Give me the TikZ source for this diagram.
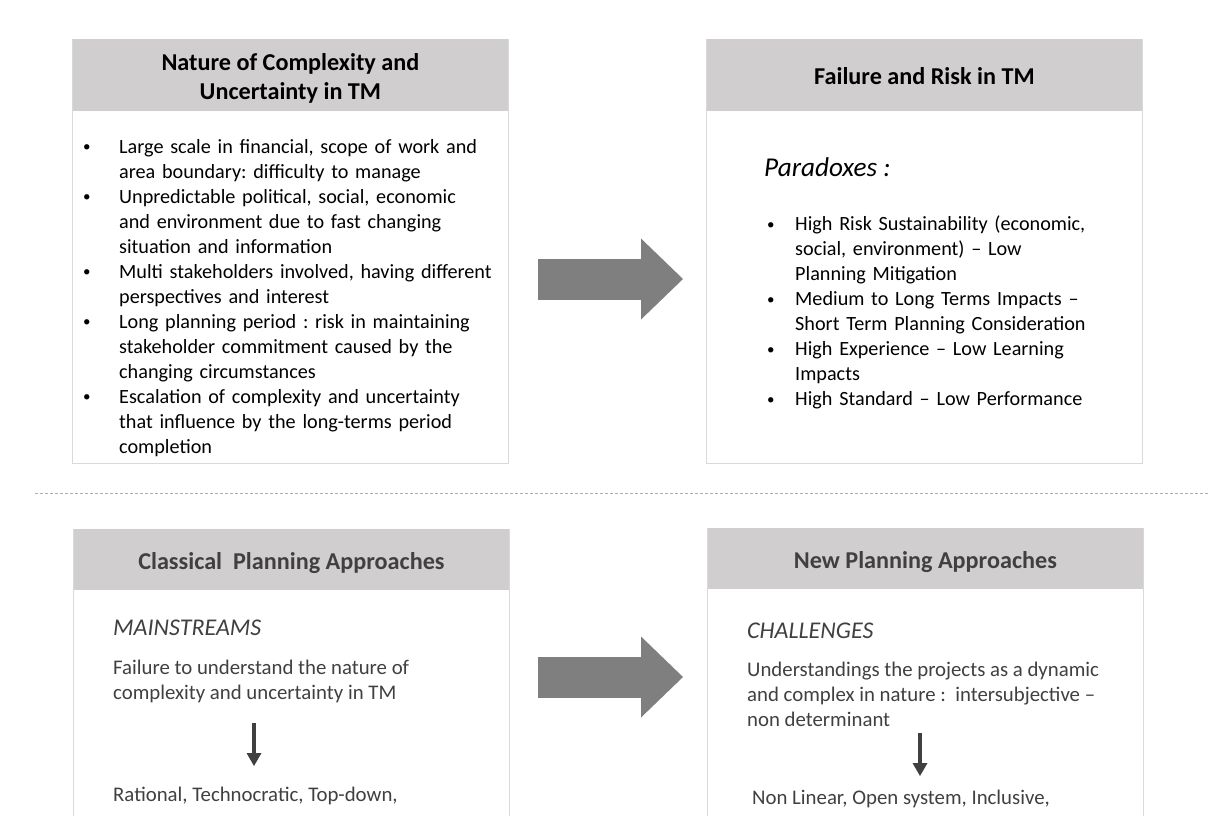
\documentclass[tikz,border=0pt]{standalone}
\usepackage{fontspec}
\setmainfont{Carlito}
\usetikzlibrary{arrows.meta,positioning}
\definecolor{Frame}{HTML}{D9D9D9}
\definecolor{Head}{HTML}{D0CECE}
\definecolor{Shaft}{HTML}{7F7F7F}
\definecolor{Ink}{HTML}{404040}
\definecolor{Rule}{HTML}{AFAFAF}
\frenchspacing
\newcommand{\bitem}[2][36pt]{\hangindent=#1\hangafter=1\noindent
  \makebox[#1][l]{\raisebox{1.5pt}{\fontsize{15pt}{15pt}\selectfont\textbullet}}#2\par}

\begin{document}
\begin{tikzpicture}[x=1pt,y=-1pt,
  panel/.style={draw=Frame,fill=white,line width=0.8pt,minimum width=436pt,anchor=north west,inner sep=0pt},
  headbar/.style={fill=Head,minimum width=435pt,minimum height=72pt,anchor=north,inner sep=0pt},
  title/.style={inner sep=0pt,align=center,font=\bfseries\fontsize{24.2pt}{29pt}\selectfont},
  body/.style={inner sep=0pt,align=left,font=\fontsize{20.2pt}{25pt}\selectfont},
  note/.style={inner sep=0pt,align=left,text=Ink,font=\fontsize{20.8pt}{25pt}\selectfont},
  lead/.style={inner sep=0pt,anchor=base west,font=\itshape\fontsize{24pt}{29pt}\selectfont},
  bigarrow/.style={Shaft,line width=41pt,-{Triangle[length=42pt,width=81pt,line width=0pt]}},
  downarrow/.style={Ink,line width=4.5pt,-{Triangle[length=13pt,width=15pt,line width=0pt]}}]
  \clip (0,0) rectangle (1208,815);
  \fill[white] (0,0) rectangle (1208,815);

  \node[panel,minimum height=424pt] (natbox) at (72,39) {};
  \node[headbar] (nathead) at ([yshift=0.4pt]natbox.north) {};
  \node[title] (nattitle) at ([yshift=-4pt]nathead.center) {Nature of Complexity and\\Uncertainty in TM};
  \node[body,anchor=north west,text width=430pt] (natlist) at (83,139) {%
    \bitem{Large scale in financial, scope of work and\newline area boundary: difficulty to manage}
    \bitem{Unpredictable political, social, economic\newline and environment due to fast changing\newline situation and information}
    \bitem{Multi stakeholders involved, having different\newline perspectives and interest}
    \bitem{Long planning period : risk in maintaining\newline stakeholder commitment caused by the\newline changing circumstances}
    \bitem{Escalation of complexity and uncertainty\newline that influence by the long-terms period\newline completion}};

  \node[panel,minimum height=424pt] (failbox) at (706,39) {};
  \node[headbar] (failhead) at ([yshift=0.4pt]failbox.north) {};
  \node[title] (failtitle) at ([yshift=-1pt]failhead.center) {Failure and Risk in TM};
  \node[lead,font=\itshape\fontsize{27.2pt}{30pt}\selectfont] (paradox) at (764,176) {Paradoxes :};
  \node[body,anchor=north west,text width=370pt] (paralist) at (767,216) {%
    \bitem[28pt]{High Risk Sustainability (economic,\newline social, environment) -- Low\newline Planning Mitigation}
    \bitem[28pt]{Medium to Long Terms Impacts --\newline Short Term Planning Consideration}
    \bitem[28pt]{High Experience -- Low Learning\newline Impacts}
    \bitem[28pt]{High Standard -- Low Performance}};

  \coordinate (sepa) at (35,493);
  \coordinate (sepb) at (1208,493);
  \draw[Rule,line width=0.8pt,dash pattern=on 3pt off 2pt] (sepa) -- (sepb);

  \node[panel,minimum height=320pt] (classbox) at (73,529) {};
  \node[headbar,minimum height=61pt] (classhead) at ([yshift=0.4pt]classbox.north) {};
  \node[title,text=Ink] (classtitle) at ([yshift=-4pt]classhead.center) {Classical\ \ Planning Approaches};
  \node[lead,text=Ink] (mainstr) at (113,635) {MAINSTREAMS};
  \node[note,anchor=north west] (failtxt) at (113,660) {Failure to understand the nature of\\complexity and uncertainty in TM};
  \node[note,anchor=base west] (ratxt) at (113,801) {Rational, Technocratic, Top-down,};

  \node[panel,minimum height=320pt] (newbox) at (707,528) {};
  \node[headbar,minimum height=61pt] (newhead) at ([yshift=0.4pt]newbox.north) {};
  \node[title,text=Ink] (newtitle) at ([yshift=-4pt]newhead.center) {New Planning Approaches};
  \node[lead,text=Ink] (challng) at (747,638) {CHALLENGES};
  \node[note,anchor=north west] (undtxt) at (747,662) {Understandings the projects as a dynamic\\and complex in nature :\ \ intersubjective --\\non determinant};
  \node[note,anchor=base west] (nonlin) at (752,804) {Non Linear, Open system, Inclusive,};

  \coordinate (arra) at (538,279);
  \coordinate (arrb) at (683,279);
  \draw[bigarrow] (arra) -- (arrb);
  \coordinate (arrc) at (538,677);
  \coordinate (arrd) at (683,677);
  \draw[bigarrow] (arrc) -- (arrd);

  \coordinate (clsa) at (254,723);
  \coordinate (clsb) at (254,766);
  \draw[downarrow] (clsa) -- (clsb);
  \coordinate (newa) at (920,733);
  \coordinate (newb) at (920,776);
  \draw[downarrow] (newa) -- (newb);
\end{tikzpicture}
\end{document}
